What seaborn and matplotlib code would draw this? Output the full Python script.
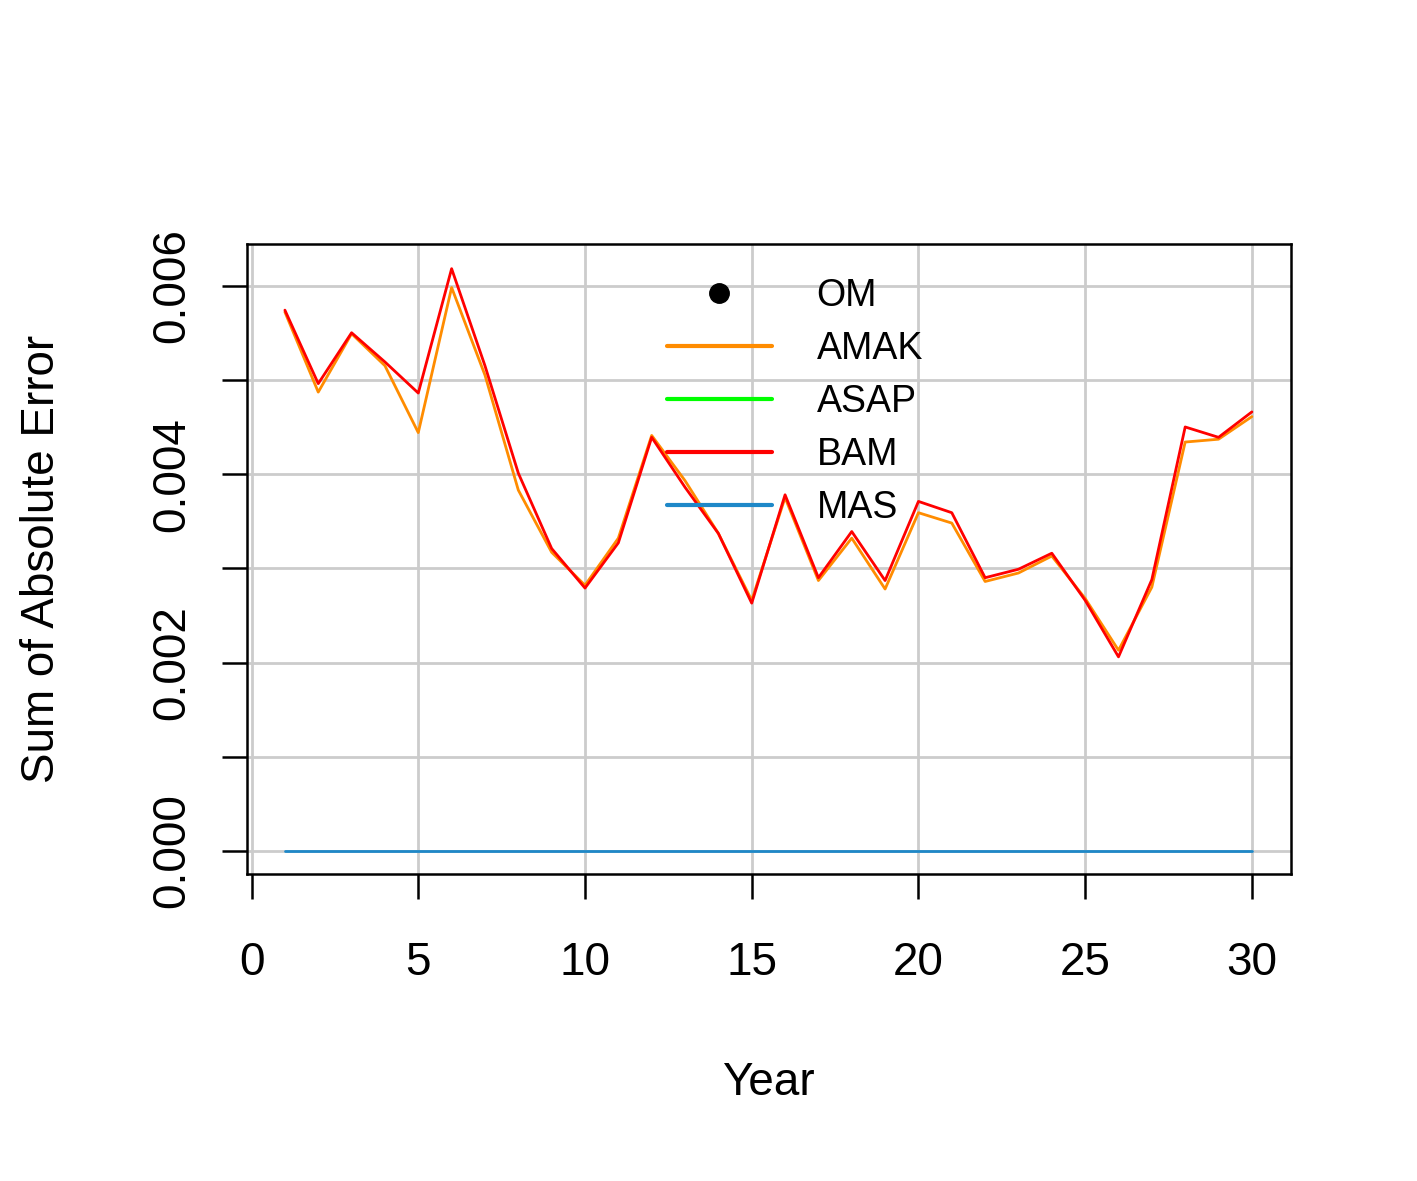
import numpy as np
import pandas as pd
import seaborn as sns
import matplotlib.pyplot as plt
from matplotlib.lines import Line2D

years = list(range(1, 31))
amak = [5.72, 4.87, 5.49, 5.15, 4.44, 5.98, 5.05, 3.83, 3.17, 2.82,
        3.32, 4.41, 3.93, 3.37, 2.66, 3.75, 2.87, 3.32, 2.78, 3.59,
        3.48, 2.86, 2.95, 3.13, 2.68, 2.13, 2.80, 4.34, 4.37, 4.61]
bam = [5.74, 4.96, 5.50, 5.19, 4.86, 6.18, 5.15, 4.01, 3.21, 2.79,
       3.27, 4.39, 3.86, 3.37, 2.63, 3.78, 2.90, 3.39, 2.87, 3.71,
       3.59, 2.90, 2.99, 3.16, 2.66, 2.06, 2.88, 4.50, 4.39, 4.66]
mas = [0.0] * 30

df = pd.DataFrame({"Year": years,
                   "AMAK": np.array(amak) / 1000,
                   "BAM": np.array(bam) / 1000,
                   "MAS": mas})

sns.set_style("white")
plt.rcParams['font.family'] = ['Liberation Sans', 'DejaVu Sans']
plt.rcParams['text.color'] = 'black'
plt.rcParams['axes.labelcolor'] = 'black'

fig = plt.figure(figsize=(14.17, 11.81), dpi=100)
ax = fig.add_axes([0.174, 0.26, 0.737, 0.533])

colors = {"AMAK": "#FF8C00", "BAM": "#FF0000", "MAS": "#1E88C8"}
sns.lineplot(data=df, x="Year", y="AMAK", color=colors["AMAK"], lw=2, ax=ax)
sns.lineplot(data=df, x="Year", y="BAM", color=colors["BAM"], lw=2, ax=ax)
sns.lineplot(data=df, x="Year", y="MAS", color=colors["MAS"], lw=2, ax=ax)

ax.set_xlim(-0.15, 31.17)
ax.set_ylim(-0.000244, 0.006437)
ax.set_xticks([0, 5, 10, 15, 20, 25, 30])
yt = [0, 0.001, 0.002, 0.003, 0.004, 0.005, 0.006]
ax.set_yticks(yt)
ax.set_yticklabels(["0.000", "", "0.002", "", "0.004", "", "0.006"],
                   rotation=90, va="center")
ax.grid(True, color="#CCCCCC", lw=2)
ax.set_axisbelow(True)
for s in ax.spines.values():
    s.set_color("black")
    s.set_linewidth(1.8)
ax.tick_params(axis="both", direction="out", length=18, width=1.8,
               labelsize=33, colors="black", bottom=True, left=True)
ax.tick_params(axis="x", pad=30)
ax.tick_params(axis="y", pad=20)
ax.set_xlabel("Year", fontsize=33, labelpad=55)
ax.set_ylabel("Sum of Absolute Error", fontsize=33, labelpad=62)

handles = [Line2D([], [], marker="o", color="black", ls="", markersize=14),
           Line2D([], [], color="#FF8C00", lw=3),
           Line2D([], [], color="#00FF00", lw=3),
           Line2D([], [], color="#FF0000", lw=3),
           Line2D([], [], color="#1E88C8", lw=3)]
ax.legend(handles, ["OM", "AMAK", "ASAP", "BAM", "MAS"], frameon=False,
          fontsize=27, loc="upper left", bbox_to_anchor=(0.37, 1.0),
          handlelength=2.8, handletextpad=1.2, labelspacing=0.45)

fig.savefig("out.png", dpi=100)
